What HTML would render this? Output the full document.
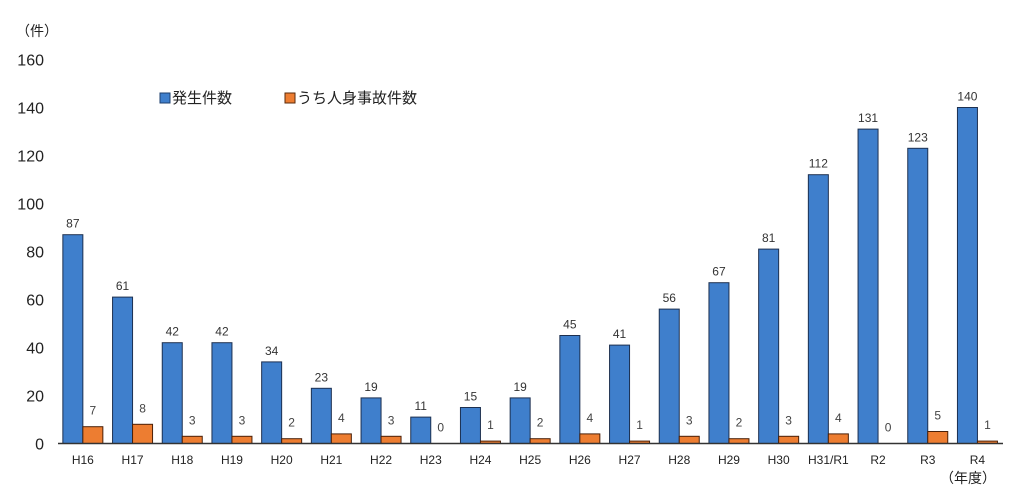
<!DOCTYPE html>
<html><head><meta charset="utf-8"><style>
body{margin:0;background:#fff;width:1024px;height:494px;overflow:hidden;font-family:"Liberation Sans","Noto Sans CJK JP",sans-serif}
svg text{font-family:"Liberation Sans","Noto Sans CJK JP",sans-serif}
</style></head><body>
<svg id="chart" width="1024" height="494" xmlns="http://www.w3.org/2000/svg">
<text x="16" y="36" font-size="14" fill="#222">（件）</text>
<g id="yticks"></g><g id="bars"></g><g id="xlabels"></g>
<line x1="58" y1="443.5" x2="1003" y2="443.5" stroke="#333" stroke-width="1.5"/>
<g>
<rect x="160" y="93" width="10" height="10" fill="#3f7fcc" stroke="#1d3f6e"/>
<text x="172" y="103" font-size="15" fill="#222">発生件数</text>
<rect x="285" y="93" width="10" height="10" fill="#ed7d31" stroke="#5a2a0a"/>
<text x="297" y="103" font-size="15" fill="#222">うち人身事故件数</text>
</g>
<text x="940" y="483" font-size="14" fill="#222">（年度）</text>
</svg>
<script>
const categories=["H16","H17","H18","H19","H20","H21","H22","H23","H24","H25","H26","H27","H28","H29","H30","H31/R1","R2","R3","R4"];
const occurrences=[87,61,42,42,34,23,19,11,15,19,45,41,56,67,81,112,131,123,140];
const injuries=[7,8,3,3,2,4,3,0,1,2,4,1,3,2,3,4,0,5,1];
const yTicks=[0,20,40,60,80,100,120,140,160];
const NS="http://www.w3.org/2000/svg";
const y0=443.5,yScale=(443.5-59.5)/160,x0=58,step=49.7;
const Y=v=>y0-v*yScale, X=i=>x0+step*(i+0.5);
function mk(tag,attrs,parent,txt){const e=document.createElementNS(NS,tag);for(const k in attrs)e.setAttribute(k,attrs[k]);if(txt!==undefined)e.textContent=txt;parent.appendChild(e);return e;}
const gy=document.getElementById('yticks'),gb=document.getElementById('bars'),gx=document.getElementById('xlabels');
yTicks.forEach(t=>{const e=mk('text',{x:44,y:Y(t)+6,'font-size':16,'text-anchor':'end',fill:'#222'},gy,t);

});
categories.forEach((c,i)=>{const cx=X(i);
const b=mk('rect',{x:cx-20,y:Y(occurrences[i]),width:20,height:occurrences[i]*yScale,fill:'#3f7fcc',stroke:'#1d3050','stroke-width':1},gb);


const o=mk('rect',{x:cx,y:Y(injuries[i]),width:20,height:injuries[i]*yScale,fill:'#ed7d31',stroke:'#4a2008','stroke-width':1},gb);


const l1=mk('text',{x:cx-10,y:Y(occurrences[i])-7,'font-size':12,'text-anchor':'middle',fill:'#333'},gb,occurrences[i]);


const l2=mk('text',{x:cx+10,y:Y(injuries[i])-12,'font-size':12,'text-anchor':'middle',fill:'#444'},gb,injuries[i]);


const xl=mk('text',{x:cx,y:464,'font-size':12,'text-anchor':'middle',fill:'#222'},gx,c);

});
</script>
</body></html>
